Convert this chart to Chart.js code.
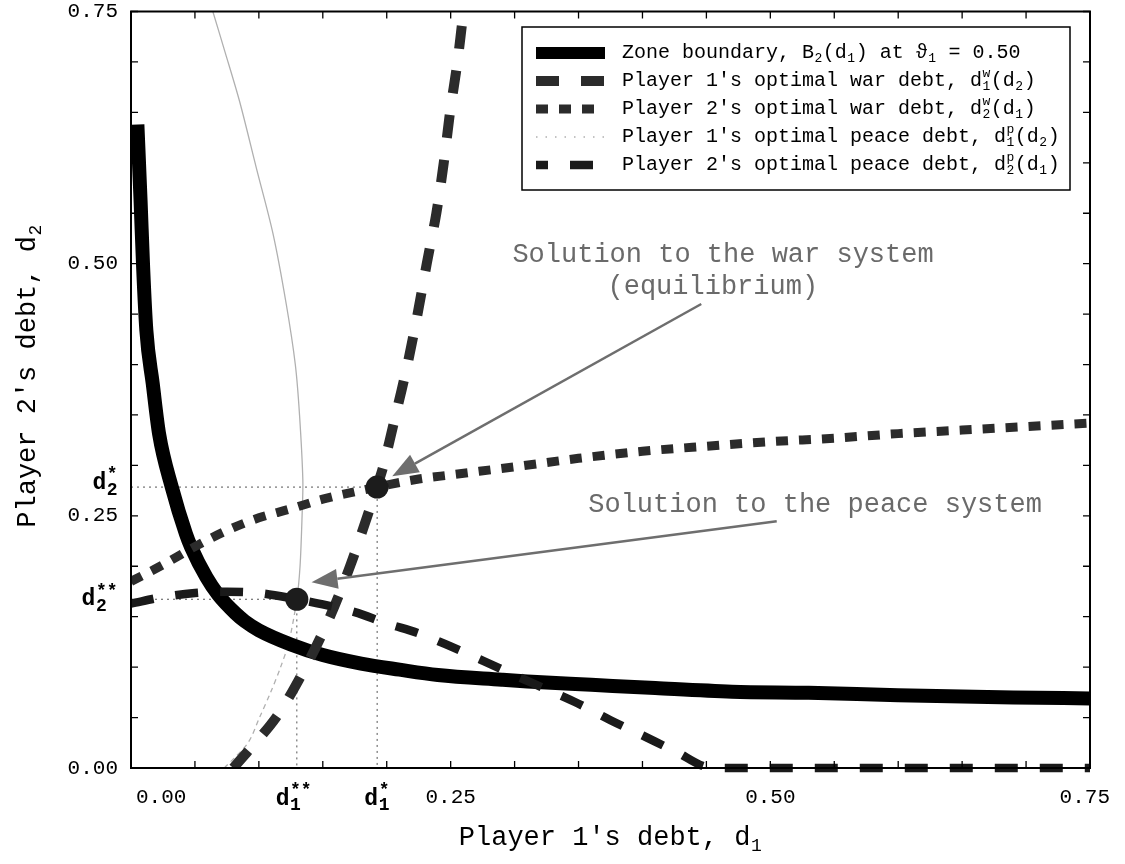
<!DOCTYPE html>
<html lang="en">
<head>
<meta charset="UTF-8">
<title>Optimal debt in the war and peace systems</title>
<script src="https://cdn.jsdelivr.net/npm/chart.js"></script>
<style>
  html, body { margin: 0; padding: 0; background: #fff; }
  canvas { display: block; }
</style>
</head>
<body>
<canvas id="debtChart" width="1125" height="864"></canvas>
<script>
// zone boundary B2(d1) at theta1 = 0.50
const boundaryD1 = [0.005, 0.0075, 0.0095, 0.012, 0.017, 0.022, 0.032, 0.043, 0.047, 0.059, 0.068, 0.082, 0.089, 0.10, 0.125, 0.15, 0.18, 0.21, 0.24, 0.29, 0.31, 0.36, 0.41, 0.47, 0.53, 0.60, 0.69, 0.75];
const boundaryD2 = [0.638, 0.562, 0.496, 0.434, 0.381, 0.331, 0.278, 0.232, 0.219, 0.189, 0.172, 0.153, 0.1455, 0.1365, 0.1225, 0.112, 0.1035, 0.0975, 0.0922, 0.0875, 0.0858, 0.0825, 0.0792, 0.0757, 0.0745, 0.0722, 0.070, 0.069];

// player 1's optimal war debt d1w(d2), read as d1 for each d2
const war1D2 = [0, 0.05, 0.10, 0.15, 0.20, 0.25, 0.2785, 0.30, 0.35, 0.40, 0.45, 0.50, 0.55, 0.60, 0.65, 0.70, 0.75];
const war1D1 = [0.080, 0.1134, 0.1366, 0.1556, 0.1713, 0.1849, 0.1923, 0.1975, 0.207, 0.2162, 0.2241, 0.2313, 0.2388, 0.2446, 0.2495, 0.2553, 0.260];

// player 2's optimal war debt d2w(d1)
const war2D1 = [0, 0.025, 0.05, 0.075, 0.10, 0.125, 0.15, 0.1923, 0.225, 0.25, 0.30, 0.35, 0.40, 0.45, 0.50, 0.55, 0.60, 0.65, 0.70, 0.75];
const war2D2 = [0.185, 0.2015, 0.2195, 0.2355, 0.248, 0.257, 0.2665, 0.2785, 0.2865, 0.2906, 0.2986, 0.307, 0.314, 0.319, 0.3235, 0.327, 0.3315, 0.335, 0.3385, 0.342];

// player 1's optimal peace debt d1p(d2), read as d1 for each d2
const peace1D2 = [0, 0.025, 0.05, 0.075, 0.10, 0.125, 0.1673, 0.20, 0.25, 0.285, 0.35, 0.40, 0.46, 0.53, 0.595, 0.661, 0.71, 0.75];
const peace1D1 = [0.073, 0.0915, 0.1005, 0.1092, 0.117, 0.1235, 0.1297, 0.1322, 0.1338, 0.1344, 0.1318, 0.1285, 0.1214, 0.111, 0.098, 0.0849, 0.0735, 0.064];

// player 2's optimal peace debt d2p(d1)
const peace2D1 = [0, 0.025, 0.05, 0.075, 0.10, 0.1297, 0.15, 0.175, 0.20, 0.225, 0.25, 0.275, 0.30, 0.325, 0.35, 0.375, 0.40, 0.425, 0.455, 0.50, 0.55, 0.60, 0.65, 0.70, 0.75];
const peace2D2 = [0.163, 0.1695, 0.1735, 0.1748, 0.1735, 0.1673, 0.1622, 0.1545, 0.1433, 0.1335, 0.1205, 0.1065, 0.092, 0.078, 0.0637, 0.0474, 0.0323, 0.017, 0, 0, 0, 0, 0, 0, 0];

// solutions: [d1, d2]
const warSolution = [0.1925, 0.2785];
const peaceSolution = [0.1297, 0.1673];

const xTickLabels = [0, 0.25, 0.50, 0.75];
const yTickLabels = [0, 0.25, 0.50, 0.75];

const seriesLabels = [
  'Zone boundary, B_{2}(d_{1}) at ϑ_{1} = 0.50',
  "Player 1's optimal war debt, d_{1}^{w}(d_{2})",
  "Player 2's optimal war debt, d_{2}^{w}(d_{1})",
  "Player 1's optimal peace debt, d_{1}^{p}(d_{2})",
  "Player 2's optimal peace debt, d_{2}^{p}(d_{1})"
];

const FONT = '"Liberation Mono", "DejaVu Sans Mono", monospace';
const pts = (xs, ys) => xs.map((x, i) => ({ x: x, y: ys[i] }));

// little renderer for d_{1}^{w} style text
function parseRich(str) {
  const out = [];
  let buf = '';
  for (let i = 0; i < str.length; i++) {
    const c = str[i];
    if ((c === '_' || c === '^') && str[i + 1] === '{') {
      const end = str.indexOf('}', i);
      const inner = str.slice(i + 2, end);
      if (buf) { out.push({ t: buf }); buf = ''; }
      const key = c === '_' ? 'sub' : 'sup';
      const last = out[out.length - 1];
      if (last && last.script && !last[key]) last[key] = inner;
      else out.push({ script: true, [key]: inner });
      i = end;
    } else {
      buf += c;
    }
  }
  if (buf) out.push({ t: buf });
  return out;
}

function drawRich(ctx, str, x, y, size, opts) {
  opts = opts || {};
  const weight = opts.weight || 'normal';
  const big = weight + ' ' + size + 'px ' + FONT;
  const small = weight + ' ' + Math.round(size * (opts.scriptScale || 0.66)) + 'px ' + FONT;
  const parts = parseRich(str);
  let width = 0;
  parts.forEach(p => {
    if (p.script) {
      ctx.font = small;
      p.w = Math.max(p.sub ? ctx.measureText(p.sub).width : 0, p.sup ? ctx.measureText(p.sup).width : 0) + 1;
    } else {
      ctx.font = big;
      p.w = ctx.measureText(p.t).width;
    }
    width += p.w;
  });
  let cx = x;
  if (opts.align === 'center') cx -= width / 2;
  if (opts.align === 'right') cx -= width;
  ctx.textAlign = 'left';
  ctx.textBaseline = 'middle';
  parts.forEach(p => {
    if (p.script) {
      ctx.font = small;
      if (p.sub) ctx.fillText(p.sub, cx + 0.5, y + size * 0.3);
      if (p.sup) ctx.fillText(p.sup, cx + 0.5, y - size * 0.36);
    } else {
      ctx.font = big;
      ctx.fillText(p.t, cx, y);
    }
    cx += p.w;
  });
  return width;
}

function arrow(ctx, x0, y0, x1, y1) {
  const a = Math.atan2(y1 - y0, x1 - x0);
  const len = 26, half = 10;
  const bx = x1 - len * Math.cos(a), by = y1 - len * Math.sin(a);
  ctx.beginPath();
  ctx.moveTo(x0, y0);
  ctx.lineTo(bx, by);
  ctx.stroke();
  ctx.beginPath();
  ctx.moveTo(x1, y1);
  ctx.lineTo(bx + half * Math.sin(a), by - half * Math.cos(a));
  ctx.lineTo(bx - half * Math.sin(a), by + half * Math.cos(a));
  ctx.closePath();
  ctx.fill();
}

// notes and arrows, in data units
const notes = [
  { text: 'Solution to the war system', x: 0.463, y: 0.509 },
  { text: '(equilibrium)', x: 0.455, y: 0.477 },
  { text: 'Solution to the peace system', x: 0.535, y: 0.2604 }
];
const arrows = [
  { from: [0.446, 0.46], to: [0.2043, 0.2893] },
  { from: [0.505, 0.2446], to: [0.1412, 0.1842] }
];

const framePlugin = {
  id: 'frame',
  afterDraw(chart) {
    const ctx = chart.ctx;
    const xs = chart.scales.x, ys = chart.scales.y;
    const area = chart.chartArea;
    ctx.save();

    // box and inward ticks every 0.05
    ctx.strokeStyle = '#000';
    ctx.lineWidth = 2;
    ctx.setLineDash([]);
    ctx.strokeRect(area.left, area.top, area.right - area.left, area.bottom - area.top);
    ctx.lineWidth = 1.3;
    const step = 0.05, tl = 7;
    for (let v = xs.min; v <= xs.max + 1e-9; v += step) {
      const px = xs.getPixelForValue(v);
      ctx.beginPath();
      ctx.moveTo(px, area.bottom); ctx.lineTo(px, area.bottom - tl);
      ctx.moveTo(px, area.top); ctx.lineTo(px, area.top + tl);
      ctx.stroke();
    }
    for (let v = ys.min; v <= ys.max + 1e-9; v += step) {
      const py = ys.getPixelForValue(v);
      ctx.beginPath();
      ctx.moveTo(area.left, py); ctx.lineTo(area.left + tl, py);
      ctx.moveTo(area.right, py); ctx.lineTo(area.right - tl, py);
      ctx.stroke();
    }

    // tick labels
    ctx.fillStyle = '#000';
    ctx.font = '21px ' + FONT;
    yTickLabels.forEach(v => {
      drawRich(ctx, v.toFixed(2), area.left - 13, ys.getPixelForValue(v), 21, { align: 'right' });
    });
    const xLabelY = area.bottom + 29;
    xTickLabels.forEach(v => {
      const s = v.toFixed(2);
      ctx.font = '21px ' + FONT;
      const w = ctx.measureText(s).width;
      let cx = xs.getPixelForValue(v);
      cx = Math.max(cx, area.left + w / 2 + 5);
      cx = Math.min(cx, chart.width - w / 2 - 15);
      drawRich(ctx, s, cx, xLabelY, 21, { align: 'center' });
    });
    const star = { weight: 'bold', scriptScale: 0.8 };
    drawRich(ctx, 'd_{1}^{**}', xs.getPixelForValue(peaceSolution[0]) - 3, xLabelY + 2, 23, Object.assign({ align: 'center' }, star));
    drawRich(ctx, 'd_{1}^{*}', xs.getPixelForValue(warSolution[0]), xLabelY + 2, 23, Object.assign({ align: 'center' }, star));
    drawRich(ctx, 'd_{2}^{*}', area.left - 13, ys.getPixelForValue(warSolution[1]) - 4, 23, Object.assign({ align: 'right' }, star));
    drawRich(ctx, 'd_{2}^{**}', area.left - 13, ys.getPixelForValue(peaceSolution[1]), 23, Object.assign({ align: 'right' }, star));

    // axis titles
    drawRich(ctx, "Player 1's debt, d_{1}", (area.left + area.right) / 2, area.bottom + 70, 27, { align: 'center' });
    ctx.save();
    ctx.translate(28, 376);
    ctx.rotate(-Math.PI / 2);
    drawRich(ctx, "Player 2's debt, d_{2}", 0, 0, 27, { align: 'center' });
    ctx.restore();

    // arrows and notes
    ctx.strokeStyle = '#6e6e6e';
    ctx.fillStyle = '#6e6e6e';
    ctx.lineWidth = 2.5;
    arrows.forEach(a => {
      arrow(ctx, xs.getPixelForValue(a.from[0]), ys.getPixelForValue(a.from[1]),
        xs.getPixelForValue(a.to[0]), ys.getPixelForValue(a.to[1]));
    });
    ctx.fillStyle = '#6a6a6a';
    notes.forEach(n => {
      drawRich(ctx, n.text, xs.getPixelForValue(n.x), ys.getPixelForValue(n.y), 27, { align: 'center' });
    });

    // legend box, inside the plot at top right
    const lx = 522, ly = 27, lw = 548, lh = 163;
    ctx.fillStyle = '#fff';
    ctx.fillRect(lx, ly, lw, lh);
    ctx.strokeStyle = '#000';
    ctx.lineWidth = 1.5;
    ctx.strokeRect(lx, ly, lw, lh);
    const items = chart.data.datasets.filter(d => d.inLegend);
    items.forEach((d, i) => {
      const ry = ly + 26 + i * 28;
      ctx.save();
      ctx.strokeStyle = d.borderColor;
      ctx.lineWidth = Math.min(d.borderWidth, 12);
      ctx.setLineDash(d.legendDash || d.borderDash || []);
      ctx.lineDashOffset = d.legendDashOffset || 0;
      ctx.lineCap = 'butt';
      ctx.beginPath();
      ctx.moveTo(lx + 14, ry);
      ctx.lineTo(lx + 83, ry);
      ctx.stroke();
      ctx.restore();
      ctx.fillStyle = '#000';
      drawRich(ctx, d.label, lx + 100, ry, 20);
    });
    ctx.restore();
  }
};

const ctx = document.getElementById('debtChart').getContext('2d');
new Chart(ctx, {
  type: 'scatter',
  data: {
    datasets: [
      {
        label: 'solutions',
        data: [{ x: warSolution[0], y: warSolution[1] }, { x: peaceSolution[0], y: peaceSolution[1] }],
        pointRadius: 11.5,
        pointBackgroundColor: '#1c1c1c',
        pointBorderWidth: 0,
        showLine: false,
        order: 0
      },
      {
        label: seriesLabels[0],
        inLegend: true,
        data: pts(boundaryD1, boundaryD2),
        borderColor: '#000',
        borderWidth: 14,
        cubicInterpolationMode: 'monotone',
        order: 8
      },
      {
        label: seriesLabels[1],
        inLegend: true,
        data: pts(war1D1, war1D2),
        borderColor: '#2b2b2b',
        borderWidth: 10,
        borderDash: [23, 22],
        tension: 0.3,
        order: 7
      },
      {
        label: seriesLabels[2],
        inLegend: true,
        data: pts(war2D1, war2D2),
        borderColor: '#2b2b2b',
        borderWidth: 9,
        borderDash: [12, 11],
        cubicInterpolationMode: 'monotone',
        order: 6
      },
      {
        label: seriesLabels[3],
        inLegend: true,
        data: pts(peace1D1, peace1D2),
        borderColor: '#b0b0b0',
        borderWidth: 1.3,
        legendDash: [1.5, 8],
        tension: 0.3,
        segment: {
          borderDash: c => (c.p1.parsed.y <= peaceSolution[1] + 1e-6 ? [5, 4] : undefined)
        },
        order: 9
      },
      {
        label: seriesLabels[4],
        inLegend: true,
        data: pts(peace2D1, peace2D2),
        borderColor: '#1a1a1a',
        borderWidth: 8.5,
        borderDash: [23, 22],
        legendDashOffset: 11,
        cubicInterpolationMode: 'monotone',
        clip: 8,
        order: 5
      },
      {
        label: 'guide d2*',
        data: [{ x: 0, y: warSolution[1] }, { x: warSolution[0], y: warSolution[1] }, { x: warSolution[0], y: 0 }],
        borderColor: '#555',
        borderWidth: 1,
        borderDash: [2, 4],
        order: 10
      },
      {
        label: 'guide d2**',
        data: [{ x: 0, y: peaceSolution[1] }, { x: peaceSolution[0], y: peaceSolution[1] }, { x: peaceSolution[0], y: 0 }],
        borderColor: '#555',
        borderWidth: 1,
        borderDash: [2, 4],
        order: 10
      }
    ]
  },
  options: {
    responsive: false,
    devicePixelRatio: 1,
    animation: false,
    showLine: true,
    elements: {
      point: { radius: 0, hoverRadius: 0 },
      line: { tension: 0, fill: false, borderCapStyle: 'butt', borderJoinStyle: 'round' }
    },
    layout: { padding: { left: 131, right: 35, top: 10, bottom: 96 } },
    scales: {
      x: { type: 'linear', min: 0, max: 0.75, display: false, ticks: { stepSize: 0.05 } },
      y: { type: 'linear', min: 0, max: 0.75, display: false, ticks: { stepSize: 0.05 } }
    },
    plugins: {
      legend: { display: false },
      tooltip: { enabled: false }
    }
  },
  plugins: [framePlugin]
});
</script>
</body>
</html>
